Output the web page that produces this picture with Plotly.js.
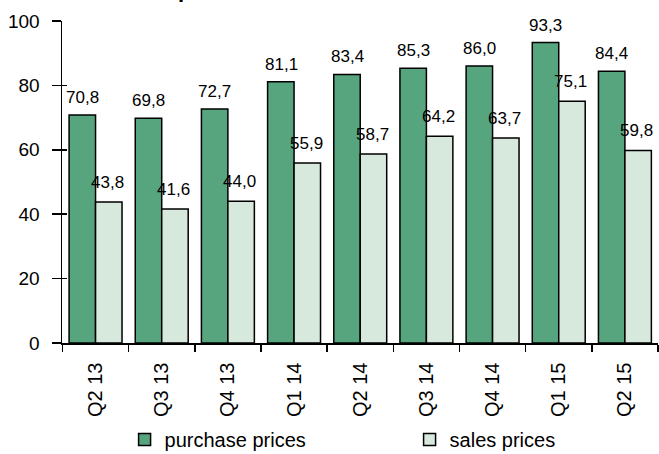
<!DOCTYPE html>
<html><head><meta charset="utf-8">
<script src="https://cdn.plot.ly/plotly-3.0.1.min.js"></script>
<style>html,body{margin:0;padding:0;background:#fff;}</style>
</head><body>
<div id="chart" style="width:659px;height:454px;"></div>
<script>
const categories = ["Q2 13","Q3 13","Q4 13","Q1 14","Q2 14","Q3 14","Q4 14","Q1 15","Q2 15"];
const purchasePrices = [70.8,69.8,72.7,81.1,83.4,85.3,86.0,93.3,84.4];
const salesPrices = [43.8,41.6,44.0,55.9,58.7,64.2,63.7,75.1,59.8];
const seriesNames = ["purchase prices","sales prices"];
const yTicks = [0,20,40,60,80,100];

const fmt = v => v.toFixed(1).replace('.', ',');
const font = "Liberation Sans, Arial, sans-serif";

const traces = [
  {type:'bar', name:seriesNames[0], x:categories, y:purchasePrices,
   marker:{color:'#56A57E', line:{color:'#000', width:1.5}}, hoverinfo:'none'},
  {type:'bar', name:seriesNames[1], x:categories, y:salesPrices,
   marker:{color:'#D7E8DC', line:{color:'#000', width:1.5}}, hoverinfo:'none'},
  {type:'scatter', x:[categories[0]], y:[0], yaxis:'y2', mode:'markers', marker:{opacity:0}, showlegend:false, hoverinfo:'none'}
];

const annotations = [];
categories.forEach((c,i)=>{
  annotations.push({x:c, y:purchasePrices[i], xref:'x', yref:'y', text:fmt(purchasePrices[i]),
    showarrow:false, yanchor:'bottom', yshift:6, xshift:-13, font:{family:font,size:17,color:'#000'}});
  annotations.push({x:c, y:salesPrices[i], xref:'x', yref:'y', text:fmt(salesPrices[i]),
    showarrow:false, yanchor:'bottom', yshift:8, xshift:12, font:{family:font,size:17,color:'#000'}});
});
annotations.push({x:0.206, xref:'paper', y:1.052, yref:'paper', text:'<b>p</b>', showarrow:false,
  xanchor:'center', yanchor:'bottom', font:{family:font,size:22,color:'#000'}});

const layout = {
  width:659, height:454,
  margin:{l:62, r:1, t:21, b:111, autoexpand:false},
  paper_bgcolor:'#fff', plot_bgcolor:'#fff',
  barmode:'group', bargap:0.2, bargroupgap:0,
  showlegend:true,
  legend:{orientation:'h', x:0.105, xanchor:'left', y:-0.30, yanchor:'middle',
    font:{family:font,size:20,color:'#000'}, entrywidth:240, itemwidth:30, traceorder:'normal'},
  xaxis:{type:'category', showline:true, linecolor:'#000', linewidth:1.5,
    ticks:'outside', ticklen:7, tickwidth:1.5, tickcolor:'#000', tickson:'boundaries',
    ticklabelstandoff:10,
    tickangle:-90, tickfont:{family:font,size:20,color:'#000'}, showgrid:false, zeroline:false, fixedrange:true},
  yaxis:{range:[0,100], tickvals:yTicks, showline:true, linecolor:'#000', linewidth:1.5,
    ticks:'outside', ticklen:9, tickwidth:1.5, tickcolor:'#000', ticklabelstandoff:8,
    tickfont:{family:font,size:19,color:'#000'}, showgrid:false, zeroline:false, fixedrange:true},
  yaxis2:{range:[0,100], overlaying:'y', side:'left', tickvals:yTicks, showticklabels:false,
    ticks:'inside', ticklen:5, tickwidth:1.5, tickcolor:'#000', showline:false, showgrid:false, zeroline:false},
  annotations:annotations
};
Plotly.newPlot('chart', traces, layout, {displayModeBar:false, staticPlot:true});
</script>
</body></html>
